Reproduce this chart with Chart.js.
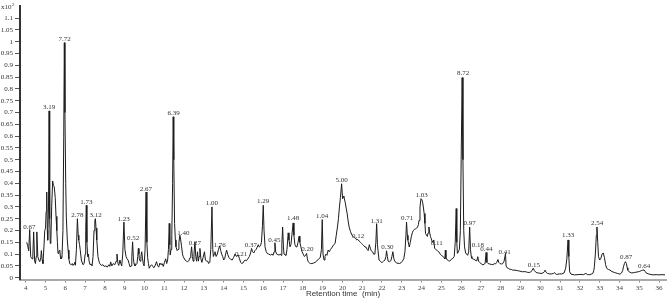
<!DOCTYPE html>
<html>
<head>
<meta charset="utf-8">
<script src="https://cdn.jsdelivr.net/npm/chart.js@4.4.1/dist/chart.umd.min.js"></script>
<style>
  body { margin: 0; background: #fff; }
</style>
</head>
<body>
<canvas id="myChart" width="668" height="300"></canvas>
<script>
// retention time (min) and signal (x10^2)
let times = [
  4.05, 4.10, 4.15, 4.20, 4.25, 4.32, 4.36, 4.40, 4.45, 4.49, 4.53, 4.56, 4.61, 4.66, 4.71, 4.76, 4.79, 4.83, 4.87, 4.92,
  4.96, 5.00, 5.03, 5.06, 5.09, 5.11, 5.15, 5.18, 5.21, 5.24, 5.27, 5.31, 5.36, 5.40, 5.44, 5.49, 5.53, 5.57, 5.60, 5.63,
  5.67, 5.72, 5.75, 5.78, 5.83, 5.88, 5.92, 5.95, 5.98, 6.02, 6.05, 6.10, 6.14, 6.18, 6.22, 6.30, 6.35, 6.39, 6.44, 6.47,
  6.51, 6.56, 6.61, 6.65, 6.68, 6.72, 6.75, 6.81, 6.89, 6.95, 7.00, 7.03, 7.06, 7.09, 7.13, 7.17, 7.20, 7.25, 7.30, 7.35,
  7.40, 7.45, 7.49, 7.52, 7.55, 7.59, 7.65, 7.70, 7.74, 7.82, 7.90, 7.96, 8.05, 8.12, 8.20, 8.25, 8.29, 8.35, 8.42, 8.50,
  8.57, 8.61, 8.66, 8.70, 8.76, 8.80, 8.85, 8.90, 8.96, 9.01, 9.07, 9.12, 9.17, 9.22, 9.27, 9.32, 9.36, 9.40, 9.44, 9.47,
  9.52, 9.57, 9.62, 9.66, 9.69, 9.72, 9.74, 9.78, 9.82, 9.86, 9.90, 9.94, 9.98, 10.03, 10.08, 10.12, 10.16, 10.20, 10.24, 10.30,
  10.36, 10.42, 10.47, 10.53, 10.57, 10.61, 10.66, 10.72, 10.78, 10.83, 10.89, 10.95, 11.01, 11.07, 11.12, 11.17, 11.21, 11.25, 11.28, 11.30,
  11.34, 11.38, 11.42, 11.45, 11.48, 11.52, 11.56, 11.59, 11.65, 11.70, 11.74, 11.79, 11.83, 11.87, 11.92, 11.96, 12.05, 12.12, 12.18, 12.24,
  12.30, 12.34, 12.38, 12.42, 12.46, 12.50, 12.55, 12.59, 12.63, 12.68, 12.72, 12.76, 12.80, 12.85, 12.90, 12.96, 13.03, 13.08, 13.14, 13.20,
  13.24, 13.30, 13.35, 13.41, 13.45, 13.48, 13.53, 13.56, 13.62, 13.68, 13.74, 13.80, 13.85, 13.90, 13.95, 14.00, 14.05, 14.10, 14.15, 14.20,
  14.27, 14.35, 14.43, 14.50, 14.57, 14.65, 14.74, 14.80, 14.86, 14.91, 14.97, 15.03, 15.08, 15.15, 15.22, 15.30, 15.36, 15.41, 15.46, 15.52,
  15.58, 15.64, 15.70, 15.75, 15.80, 15.86, 15.91, 15.96, 16.00, 16.04, 16.09, 16.15, 16.20, 16.28, 16.37, 16.44, 16.50, 16.55, 16.59, 16.63,
  16.68, 16.74, 16.80, 16.86, 16.90, 16.94, 16.98, 17.02, 17.05, 17.10, 17.15, 17.20, 17.26, 17.30, 17.35, 17.40, 17.46, 17.51, 17.55, 17.60,
  17.65, 17.70, 17.76, 17.81, 17.85, 17.90, 17.96, 18.02, 18.08, 18.14, 18.19, 18.23, 18.27, 18.33, 18.39, 18.46, 18.54, 18.62, 18.70, 18.80,
  18.88, 18.94, 18.98, 19.02, 19.07, 19.12, 19.17, 19.22, 19.28, 19.34, 19.40, 19.49, 19.56, 19.63, 19.69, 19.75, 19.80, 19.85, 19.90, 19.96,
  20.01, 20.04, 20.08, 20.14, 20.19, 20.24, 20.29, 20.34, 20.41, 20.48, 20.55, 20.60, 20.66, 20.72, 20.78, 20.85, 20.91, 20.97, 21.03, 21.09,
  21.14, 21.19, 21.25, 21.30, 21.36, 21.41, 21.45, 21.52, 21.58, 21.64, 21.69, 21.73, 21.77, 21.80, 21.85, 21.92, 21.97, 22.02, 22.08, 22.15,
  22.20, 22.23, 22.27, 22.31, 22.38, 22.45, 22.50, 22.55, 22.60, 22.66, 22.75, 22.88, 22.96, 23.03, 23.10, 23.16, 23.21, 23.24, 23.28, 23.31,
  23.35, 23.38, 23.43, 23.48, 23.53, 23.58, 23.64, 23.70, 23.75, 23.80, 23.84, 23.87, 23.92, 23.97, 24.02, 24.05, 24.09, 24.13, 24.17, 24.20,
  24.25, 24.29, 24.33, 24.37, 24.41, 24.45, 24.49, 24.53, 24.57, 24.62, 24.66, 24.72, 24.79, 24.87, 24.94, 25.00, 25.08, 25.14, 25.18, 25.20,
  25.23, 25.30, 25.36, 25.42, 25.50, 25.58, 25.65, 25.70, 25.75, 25.78, 25.81, 25.86, 25.91, 25.96, 26.00, 26.05, 26.09, 26.13, 26.17, 26.23,
  26.29, 26.33, 26.38, 26.43, 26.47, 26.51, 26.54, 26.59, 26.64, 26.70, 26.76, 26.80, 26.84, 26.88, 26.93, 27.00, 27.10, 27.16, 27.21, 27.26,
  27.30, 27.36, 27.45, 27.53, 27.61, 27.67, 27.73, 27.80, 27.86, 27.90, 27.96, 28.04, 28.10, 28.17, 28.24, 28.27, 28.32, 28.38, 28.45, 28.53,
  28.61, 28.72, 28.84, 28.96, 29.10, 29.22, 29.34, 29.44, 29.52, 29.58, 29.64, 29.70, 29.79, 29.90, 30.04, 30.14, 30.20, 30.24, 30.30, 30.37,
  30.48, 30.58, 30.66, 30.72, 30.77, 30.82, 30.95, 31.08, 31.20, 31.28, 31.34, 31.40, 31.44, 31.48, 31.55, 31.73, 31.90, 32.05, 32.18, 32.25,
  32.31, 32.38, 32.50, 32.60, 32.65, 32.70, 32.73, 32.78, 32.83, 32.86, 32.90, 32.94, 33.00, 33.05, 33.12, 33.18, 33.24, 33.30, 33.35, 33.44,
  33.52, 33.62, 33.75, 33.90, 34.03, 34.10, 34.16, 34.20, 34.25, 34.30, 34.35, 34.39, 34.42, 34.50, 34.62, 34.75, 34.88, 35.00, 35.10, 35.18,
  35.24, 35.30, 35.35, 35.50, 35.69, 35.85, 36.00, 36.15, 36.30
];
let signal = [
  0.150, 0.135, 0.114, 0.204, 0.089, 0.080, 0.100, 0.194, 0.070, 0.060, 0.090, 0.194, 0.089, 0.075, 0.068, 0.085, 0.115, 0.075, 0.060, 0.131,
  0.200, 0.210, 0.280, 0.363, 0.200, 0.159, 0.300, 0.707, 0.250, 0.145, 0.160, 0.300, 0.410, 0.390, 0.385, 0.340, 0.260, 0.200, 0.150, 0.103,
  0.110, 0.117, 0.090, 0.080, 0.085, 0.200, 0.600, 0.996, 0.700, 0.400, 0.257, 0.160, 0.117, 0.080, 0.060, 0.055, 0.060, 0.052, 0.058, 0.065,
  0.053, 0.120, 0.250, 0.180, 0.159, 0.140, 0.120, 0.075, 0.055, 0.060, 0.100, 0.200, 0.307, 0.150, 0.089, 0.100, 0.070, 0.055, 0.058, 0.050,
  0.090, 0.200, 0.240, 0.250, 0.210, 0.160, 0.089, 0.070, 0.060, 0.052, 0.055, 0.048, 0.050, 0.045, 0.055, 0.048, 0.067, 0.050, 0.060, 0.055,
  0.070, 0.100, 0.060, 0.052, 0.075, 0.060, 0.050, 0.100, 0.236, 0.120, 0.089, 0.080, 0.075, 0.060, 0.046, 0.050, 0.090, 0.152, 0.080, 0.060,
  0.050, 0.055, 0.060, 0.090, 0.124, 0.100, 0.080, 0.070, 0.090, 0.110, 0.080, 0.060, 0.050, 0.120, 0.363, 0.150, 0.085, 0.060, 0.040, 0.050,
  0.055, 0.048, 0.042, 0.050, 0.060, 0.068, 0.050, 0.045, 0.062, 0.055, 0.060, 0.048, 0.065, 0.080, 0.060, 0.075, 0.120, 0.230, 0.140, 0.096,
  0.120, 0.180, 0.400, 0.682, 0.500, 0.230, 0.160, 0.131, 0.115, 0.120, 0.150, 0.180, 0.160, 0.135, 0.100, 0.089, 0.075, 0.070, 0.068, 0.072,
  0.085, 0.100, 0.131, 0.090, 0.070, 0.100, 0.152, 0.090, 0.070, 0.110, 0.070, 0.090, 0.124, 0.080, 0.065, 0.085, 0.110, 0.075, 0.070, 0.070,
  0.060, 0.065, 0.120, 0.300, 0.120, 0.090, 0.100, 0.110, 0.090, 0.100, 0.120, 0.135, 0.115, 0.100, 0.090, 0.075, 0.080, 0.100, 0.117, 0.100,
  0.085, 0.078, 0.075, 0.085, 0.100, 0.090, 0.096, 0.080, 0.065, 0.060, 0.062, 0.070, 0.075, 0.072, 0.080, 0.090, 0.105, 0.124, 0.110, 0.105,
  0.115, 0.120, 0.130, 0.140, 0.130, 0.135, 0.150, 0.220, 0.307, 0.200, 0.131, 0.110, 0.103, 0.100, 0.096, 0.100, 0.095, 0.110, 0.148, 0.110,
  0.100, 0.098, 0.096, 0.100, 0.095, 0.140, 0.215, 0.130, 0.100, 0.097, 0.095, 0.120, 0.190, 0.160, 0.131, 0.140, 0.190, 0.232, 0.180, 0.140,
  0.131, 0.130, 0.150, 0.176, 0.150, 0.131, 0.110, 0.100, 0.090, 0.095, 0.103, 0.080, 0.068, 0.063, 0.060, 0.060, 0.062, 0.065, 0.070, 0.080,
  0.085, 0.120, 0.246, 0.100, 0.075, 0.090, 0.100, 0.095, 0.117, 0.110, 0.120, 0.130, 0.140, 0.145, 0.180, 0.215, 0.250, 0.300, 0.340, 0.398,
  0.335, 0.345, 0.340, 0.320, 0.295, 0.272, 0.240, 0.215, 0.195, 0.180, 0.175, 0.170, 0.168, 0.160, 0.162, 0.155, 0.150, 0.145, 0.140, 0.135,
  0.130, 0.130, 0.120, 0.115, 0.140, 0.125, 0.115, 0.110, 0.100, 0.100, 0.150, 0.229, 0.140, 0.115, 0.075, 0.070, 0.065, 0.065, 0.070, 0.075,
  0.090, 0.114, 0.090, 0.070, 0.068, 0.072, 0.090, 0.110, 0.080, 0.068, 0.062, 0.060, 0.063, 0.070, 0.080, 0.110, 0.180, 0.236, 0.180, 0.159,
  0.140, 0.130, 0.150, 0.173, 0.190, 0.200, 0.205, 0.207, 0.210, 0.215, 0.225, 0.243, 0.300, 0.335, 0.330, 0.320, 0.300, 0.272, 0.230, 0.187,
  0.180, 0.175, 0.190, 0.215, 0.190, 0.175, 0.165, 0.155, 0.150, 0.160, 0.124, 0.120, 0.115, 0.110, 0.100, 0.095, 0.090, 0.085, 0.080, 0.117,
  0.085, 0.075, 0.072, 0.070, 0.078, 0.082, 0.090, 0.150, 0.293, 0.150, 0.103, 0.110, 0.120, 0.200, 0.500, 0.848, 0.500, 0.200, 0.131, 0.103,
  0.100, 0.095, 0.110, 0.215, 0.120, 0.090, 0.082, 0.080, 0.078, 0.075, 0.072, 0.075, 0.089, 0.070, 0.065, 0.060, 0.054, 0.058, 0.060, 0.107,
  0.065, 0.060, 0.058, 0.056, 0.055, 0.060, 0.058, 0.065, 0.077, 0.065, 0.060, 0.058, 0.060, 0.070, 0.103, 0.050, 0.042, 0.040, 0.036, 0.035,
  0.032, 0.032, 0.030, 0.028, 0.025, 0.026, 0.023, 0.022, 0.025, 0.030, 0.040, 0.030, 0.022, 0.020, 0.018, 0.020, 0.025, 0.032, 0.022, 0.018,
  0.016, 0.016, 0.018, 0.022, 0.016, 0.014, 0.016, 0.016, 0.020, 0.040, 0.080, 0.160, 0.090, 0.025, 0.015, 0.012, 0.013, 0.014, 0.013, 0.016,
  0.018, 0.013, 0.013, 0.016, 0.018, 0.030, 0.046, 0.100, 0.180, 0.215, 0.150, 0.089, 0.075, 0.080, 0.100, 0.105, 0.085, 0.055, 0.040, 0.035,
  0.032, 0.026, 0.022, 0.018, 0.015, 0.020, 0.030, 0.046, 0.060, 0.068, 0.060, 0.042, 0.032, 0.024, 0.020, 0.022, 0.024, 0.026, 0.030, 0.032,
  0.033, 0.026, 0.020, 0.015, 0.012, 0.013, 0.012, 0.013, 0.012
];

// peak annotations: text, time and level just under the text
let labelText = ['0.67', '3.19', '7.72', '2.78', '1.73', '3.12', '1.23', '0.52', '2.67', '6.39', '1.40', '0.27', '1.00', '1.76',
                 '0.21', '0.37', '1.29', '0.45', '1.48', '0.20', '1.04', '5.00', '0.12', '1.31', '0.30', '0.71', '1.03', '0.11',
                 '8.72', '0.97', '0.18', '0.44', '0.41', '0.15', '1.33', '2.54', '0.87', '0.64'];
let labelTime = [4.18, 5.18, 5.97, 6.61, 7.06, 7.53, 8.95, 9.42, 10.07, 11.47, 11.96, 12.55, 13.41, 13.8,
                 14.88, 15.37, 16.0, 16.56, 17.51, 18.23, 18.98, 19.96, 20.8, 21.73, 22.27, 23.27, 24.0, 24.77,
                 26.1, 26.43, 26.85, 27.27, 28.2, 29.68, 31.4, 32.87, 34.33, 35.25];
let labelLevel = [0.2, 0.707, 0.998, 0.25, 0.306, 0.25, 0.233, 0.151, 0.36, 0.681, 0.173, 0.133, 0.302, 0.125,
                  0.085, 0.122, 0.309, 0.144, 0.236, 0.106, 0.246, 0.397, 0.162, 0.226, 0.113, 0.236, 0.334, 0.13,
                  0.85, 0.215, 0.122, 0.108, 0.095, 0.039, 0.165, 0.216, 0.073, 0.036];

let xTicks = [4, 5, 6, 7, 8, 9, 10, 11, 12, 13, 14, 15, 16, 17, 18, 19, 20, 21, 22, 23, 24, 25, 26, 27, 28, 29, 30, 31, 32, 33, 34, 35, 36];
let yTicks = [0, 0.05, 0.1, 0.15, 0.2, 0.25, 0.3, 0.35, 0.4, 0.45, 0.5, 0.55, 0.6, 0.65, 0.7, 0.75, 0.8, 0.85, 0.9, 0.95, 1, 1.05, 1.1];

let tickFont = { family: 'Liberation Serif', size: 7 };

let peakLabels = {
    id: 'peakLabels',
    afterDatasetsDraw(chart) {
        let ctx = chart.ctx;
        let xs = chart.scales.x, ys = chart.scales.y;
        ctx.save();
        ctx.font = '7px "Liberation Serif"';
        ctx.fillStyle = '#333';
        ctx.textAlign = 'center';
        ctx.textBaseline = 'bottom';
        labelText.forEach((t, i) => {
            ctx.fillText(t, xs.getPixelForValue(labelTime[i]), ys.getPixelForValue(labelLevel[i]));
        });
        // exponent marker at the top of the y axis
        ctx.textAlign = 'left';
        ctx.textBaseline = 'alphabetic';
        ctx.fillText('x10', 1, 9);
        ctx.font = '5px "Liberation Serif"';
        ctx.fillText('2', 12, 6);
        ctx.restore();
    }
};

let myChart = document.getElementById('myChart').getContext('2d');
let chart = new Chart(myChart, {
    type: 'line',
    data: {
        datasets: [{
            data: times.map((t, i) => ({ x: t, y: signal[i] })),
            borderColor: '#1c1c1c',
            borderWidth: 1,
            pointRadius: 0,
            tension: 0,
            fill: false
        }]
    },
    options: {
        responsive: false,
        animation: false,
        devicePixelRatio: 1,
        layout: { padding: { top: 5, right: 2, left: 0, bottom: 0 } },
        plugins: { legend: { display: false }, tooltip: { enabled: false } },
        scales: {
            x: {
                type: 'linear',
                min: 3.71,
                max: 36.35,
                afterBuildTicks: s => { s.ticks = xTicks.map(v => ({ value: v })); },
                afterFit: s => { s.height = 20.5; },
                grid: { drawOnChartArea: false, drawTicks: true, tickLength: 3, color: '#888' },
                border: { display: true, color: '#aaa', width: 2 },
                ticks: { font: tickFont, color: '#444', padding: 1, maxRotation: 0, autoSkip: false },
                title: {
                    display: true,
                    text: 'Retention time  (min)',
                    font: { family: 'Liberation Sans', size: 8 },
                    color: '#333',
                    padding: { top: 0, bottom: 1 }
                }
            },
            y: {
                min: -0.0076,
                max: 1.1506,
                afterBuildTicks: s => { s.ticks = yTicks.map(v => ({ value: v })); },
                afterFit: s => { s.width = 20; },
                grid: { drawOnChartArea: false, drawTicks: true, tickLength: 5, color: '#555' },
                border: { display: true, color: '#333', width: 2 },
                ticks: {
                    font: tickFont,
                    color: '#333',
                    padding: 2,
                    autoSkip: false,
                    callback: v => String(Math.round(v * 100) / 100)
                }
            }
        }
    },
    plugins: [peakLabels]
});
</script>
</body>
</html>
